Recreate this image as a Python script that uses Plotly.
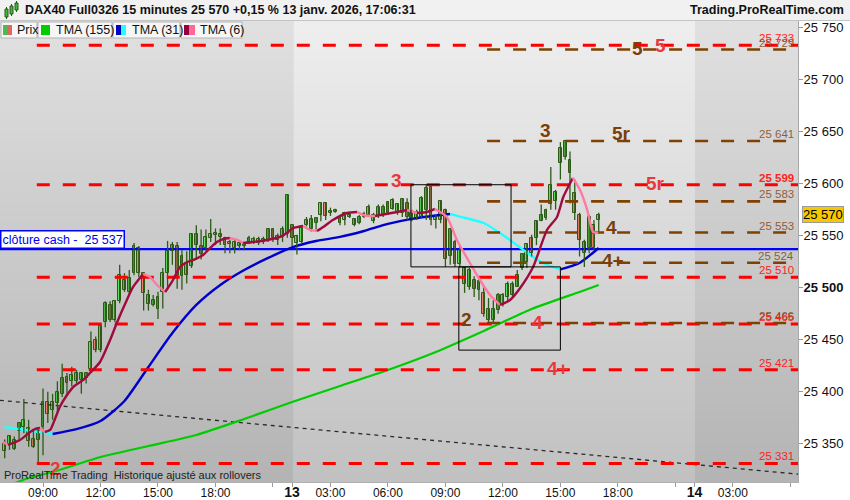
import plotly.graph_objects as go

# ---------------- data (15-minute bars, DAX40 Full0326) ----------------
opens = [25343, 25349, 25345, 25362, 25366, 25365, 25355, 25354, 25366, 25390,
         25382, 25389, 25398, 25414, 25410, 25418, 25411, 25413, 25422, 25450,
         25440, 25467, 25483, 25469, 25487, 25507, 25496, 25514, 25538, 25514,
         25484, 25483, 25480, 25496, 25514, 25535, 25540, 25511, 25524, 25521,
         25552, 25540, 25538, 25548, 25551, 25549, 25548, 25544, 25538, 25540,
         25543, 25544, 25543, 25543, 25547, 25546, 25556, 25546, 25549, 25552,
         25560, 25543, 25544, 25560, 25556, 25562, 25570, 25581, 25572, 25573,
         25562, 25565, 25568, 25560, 25562, 25568, 25578, 25564, 25569, 25570,
         25572, 25584, 25572, 25572, 25581, 25565, 25573, 25568, 25575, 25597,
         25565, 25565, 25575, 25530, 25544, 25523, 25519, 25501, 25507, 25498,
         25495, 25480, 25469, 25479, 25483, 25491, 25504, 25501, 25519, 25525,
         25548, 25548, 25564, 25567, 25580, 25583, 25620, 25626, 25623, 25591,
         25570, 25533, 25538, 25560, 25565]
highs = [25354, 25358, 25357, 25371, 25393, 25373, 25363, 25366, 25403, 25400,
         25398, 25410, 25427, 25418, 25424, 25421, 25419, 25419, 25458, 25453,
         25464, 25487, 25487, 25488, 25522, 25514, 25517, 25543, 25540, 25515,
         25498, 25493, 25496, 25519, 25545, 25544, 25544, 25536, 25535, 25552,
         25560, 25556, 25556, 25566, 25557, 25557, 25549, 25546, 25546, 25544,
         25544, 25550, 25549, 25549, 25549, 25557, 25557, 25552, 25559, 25590,
         25560, 25551, 25560, 25568, 25570, 25568, 25582, 25582, 25577, 25576,
         25570, 25573, 25572, 25567, 25570, 25573, 25580, 25572, 25580, 25580,
         25583, 25586, 25581, 25586, 25586, 25575, 25575, 25588, 25599, 25597,
         25570, 25584, 25576, 25557, 25546, 25541, 25520, 25519, 25511, 25509,
         25501, 25490, 25488, 25495, 25495, 25506, 25506, 25517, 25533, 25543,
         25551, 25565, 25580, 25576, 25616, 25594, 25640, 25642, 25631, 25604,
         25572, 25546, 25570, 25565, 25572]
lows = [25336, 25344, 25344, 25354, 25360, 25347, 25346, 25331, 25339, 25370,
        25373, 25379, 25395, 25398, 25405, 25408, 25398, 25408, 25418, 25438,
        25438, 25462, 25467, 25467, 25485, 25496, 25494, 25512, 25510, 25478,
        25478, 25482, 25470, 25480, 25498, 25522, 25499, 25498, 25504, 25519,
        25527, 25527, 25535, 25544, 25541, 25541, 25533, 25533, 25533, 25536,
        25536, 25542, 25542, 25541, 25542, 25544, 25544, 25541, 25544, 25548,
        25540, 25532, 25543, 25559, 25554, 25556, 25564, 25565, 25569, 25572,
        25560, 25560, 25567, 25559, 25561, 25567, 25568, 25562, 25567, 25568,
        25570, 25575, 25570, 25568, 25565, 25564, 25565, 25567, 25565, 25560,
        25557, 25562, 25520, 25522, 25520, 25520, 25495, 25498, 25491, 25488,
        25472, 25467, 25467, 25475, 25482, 25488, 25491, 25501, 25517, 25519,
        25530, 25541, 25564, 25565, 25575, 25575, 25604, 25623, 25581, 25565,
        25530, 25520, 25533, 25536, 25552]
closes = [25350, 25357, 25354, 25370, 25373, 25353, 25347, 25362, 25390, 25379,
          25390, 25400, 25413, 25408, 25416, 25410, 25418, 25418, 25448, 25440,
          25463, 25485, 25469, 25487, 25512, 25498, 25509, 25540, 25514, 25495,
          25493, 25488, 25491, 25514, 25535, 25541, 25511, 25530, 25512, 25552,
          25541, 25532, 25549, 25552, 25553, 25552, 25541, 25542, 25544, 25543,
          25540, 25548, 25547, 25547, 25544, 25556, 25548, 25550, 25556, 25589,
          25548, 25550, 25557, 25565, 25566, 25567, 25581, 25569, 25574, 25575,
          25567, 25572, 25570, 25566, 25568, 25571, 25570, 25570, 25578, 25578,
          25582, 25576, 25580, 25585, 25568, 25572, 25567, 25586, 25596, 25565,
          25568, 25583, 25528, 25556, 25523, 25536, 25504, 25517, 25499, 25506,
          25475, 25469, 25480, 25493, 25493, 25504, 25493, 25512, 25532, 25542,
          25533, 25564, 25570, 25575, 25599, 25592, 25634, 25641, 25610, 25572,
          25546, 25544, 25568, 25538, 25570]
bars = list(range(len(closes)))

# x-axis ticks (bar index -> label); day 13 starts at bar 60, day 14 at bar 144
tick_bars = [8, 20, 32, 44, 56, 60, 68, 80, 92, 104, 116, 128, 140, 144, 152, 164]
tick_labels = ["09:00", "12:00", "15:00", "18:00", "", "13", "03:00", "06:00",
               "09:00", "12:00", "15:00", "18:00", "", "14", "03:00", ""]
day_labels = ["13", "14"]
price_ticks = [25350, 25400, 25450, 25500, 25550, 25600, 25650, 25700, 25750]

# indicators (bar index, value)
tma155_bars = [0, 5, 10, 20, 30, 40, 50, 60, 70, 80, 90, 100, 110, 120, 124]
tma155_vals = [25308.4, 25317.0, 25322.8, 25337.2, 25347.8, 25358.4, 25373.8, 25390.1,
               25405.5, 25420.9, 25438.2, 25458.4, 25479.5, 25495.9, 25502.6]
tma31_bars = [0, 5, 10, 15, 20, 25, 30, 35, 40, 45, 50, 55, 60, 65, 70, 75, 80, 85,
              90, 93, 95, 100, 105, 110, 113, 116, 120, 124]
tma31_vals = [25366.1, 25362.7, 25359.3, 25364.0, 25371.8, 25391.1, 25423.8, 25456.4,
              25483.4, 25502.6, 25517.0, 25528.6, 25538.7, 25544.9, 25548.8, 25554.5,
              25561.3, 25566.1, 25569.4, 25570.9, 25568.4, 25562.2, 25547.4, 25530.5,
              25522.3, 25517.7, 25523.8, 25538.2]
tma6_bars = [-0.4, 0.7, 3.2, 5.3, 6.3, 7.4, 8.4, 9.5, 10.5, 11.5, 13.0, 14.3, 16.4, 17.8,
             19.9, 22.0, 23.4, 25.5, 26.8, 28.9, 30.3, 31.8, 33.5, 34.9, 36.6, 38.1,
             39.3, 41.4, 42.9, 44.3, 45.6, 47.0, 48.5, 49.8, 51.8, 54.8, 57.5, 58.9,
             60.2, 61.2, 62.3, 63.7, 65.2, 66.5, 68.5, 71.5, 73.6, 75.2, 77.3, 79.0,
             81.9, 84.0, 86.1, 88.2, 89.8, 92.3, 94.4, 97.1, 99.2, 101.3, 103.4, 105.5,
             107.6, 110.3, 113.2, 115.3, 116.6, 118.6, 120.1, 121.6, 122.8, 123.9]
tma6_vals = [25351.6, 25348.8, 25353.6, 25361.3, 25364.1, 25365.1, 25361.3, 25363.2,
             25373.8, 25385.3, 25396.8, 25404.5, 25411.3, 25418.0, 25428.6, 25449.7,
             25466.1, 25488.2, 25500.7, 25513.2, 25510.3, 25502.6, 25495.9, 25505.5,
             25519.9, 25524.7, 25526.6, 25531.4, 25538.2, 25543.9, 25546.8, 25547.8,
             25545.9, 25543.0, 25543.9, 25545.9, 25548.8, 25552.6, 25557.4, 25558.4,
             25559.3, 25555.5, 25554.5, 25558.4, 25565.1, 25571.8, 25572.8, 25569.4,
             25568.9, 25570.4, 25572.8, 25574.7, 25571.8, 25572.8, 25575.7, 25568.0,
             25545.9, 25523.8, 25507.4, 25493.0, 25483.4, 25488.2, 25499.7, 25519.9,
             25555.5, 25568.0, 25587.2, 25605.5, 25593.9, 25574.7, 25553.6, 25552.6]

red_levels = [25733, 25599, 25510, 25465, 25421, 25331]
brown_levels = [25729, 25641, 25583, 25553, 25524, 25466]
red_start_bar = 6.7
brown_start_bar = 100.7
cash_close = 25537
last_price = 25570
trend_bars = [-1, 166]
trend_vals = [25391.7, 25320.6]
zone_bars = [(84.8, 105.7), (94.8, 116.0)]
zone_prices = [(25599, 25520), (25520, 25440)]

# ---------------- styling ----------------
FONT = "Liberation Sans, Arial, sans-serif"
X_RANGE = [-0.98, 165.6]
Y_RANGE = [25313.2, 25756.4]
PLOT_W, PLOT_H, TOP = 798, 461, 21
OUTLINE = "#2d5a17"
UP_BODY = "#5fe05f"
DOWN_BODY = "#e8806e"


def fmt(v):
    return f"{v:,}".replace(",", " ")


def X(px):
    return px / PLOT_W


def P(py):
    return 1 + (TOP - py) / PLOT_H


fig = go.Figure()

# background: vertical gradient, alternating per day
shapes = []
N = 46
regions = [(X_RANGE[0], 60.3, 224, 180), (60.3, 144.1, 238, 193), (144.1, X_RANGE[1], 224, 180)]
for x0, x1, top, bot in regions:
    for k in range(N):
        t = (k + 0.5) / N
        v = int(round(bot + (top - bot) * t))
        shapes.append(dict(type="rect", xref="x", yref="paper", x0=x0, x1=x1,
                           y0=k / N, y1=(k + 1) / N + 0.002, layer="below",
                           fillcolor=f"rgb({v},{v},{v})", line=dict(width=0)))

# trend line
fig.add_trace(go.Scatter(x=trend_bars, y=trend_vals, mode="lines",
                         line=dict(color="#2a2a2a", width=1.3, dash="4px,4px"), hoverinfo="skip"))
# cash close line
fig.add_trace(go.Scatter(x=[X_RANGE[0] - 2, X_RANGE[1] + 5], y=[cash_close, cash_close], mode="lines",
                         line=dict(color="#0000ff", width=2.2), hoverinfo="skip"))


def colored(xs, ys, up_c, dn_c, width):
    segs = []
    cur = None
    for k in range(len(xs) - 1):
        c = up_c if ys[k + 1] >= ys[k] else dn_c
        if cur is None or cur[0] != c:
            cur = [c, [xs[k]], [ys[k]]]
            segs.append(cur)
        cur[1].append(xs[k + 1])
        cur[2].append(ys[k + 1])
    for c, sx, sy in segs:
        fig.add_trace(go.Scatter(x=sx, y=sy, mode="lines", hoverinfo="skip",
                                 line=dict(color=c, width=width, shape="spline", smoothing=0.6)))


colored(tma155_bars, tma155_vals, "#00cc00", "#00cc00", 2.2)
colored(tma31_bars, tma31_vals, "#0000cc", "#22ffff", 2.4)

# candles: wicks + bodies
wx, wy = [], []
for i in bars:
    wx += [i, i, None]
    wy += [lows[i], highs[i], None]
fig.add_trace(go.Scatter(x=wx, y=wy, mode="lines", line=dict(color=OUTLINE, width=1.3),
                         hoverinfo="skip"))
bases = [min(o, c) for o, c in zip(opens, closes)]
heights = [max(abs(c - o), 0.8) for o, c in zip(opens, closes)]
colors = [UP_BODY if c >= o else DOWN_BODY for o, c in zip(opens, closes)]
fig.add_trace(go.Bar(x=bars, y=heights, base=bases, width=0.6, marker=dict(
    color=colors, line=dict(color=OUTLINE, width=1)), hoverinfo="skip"))

# level lines
for lv in red_levels:
    fig.add_trace(go.Scatter(x=[red_start_bar, X_RANGE[1] + 10], y=[lv, lv], mode="lines",
                             line=dict(color="#ff0000", width=3, dash="13px,13px"), hoverinfo="skip"))
for lv in brown_levels:
    fig.add_trace(go.Scatter(x=[brown_start_bar, X_RANGE[1] + 10], y=[lv, lv], mode="lines",
                             line=dict(color="#7f4000", width=2.6, dash="13px,13px"), hoverinfo="skip"))

colored(tma6_bars, tma6_vals, "#9e0b3e", "#ff7aa0", 2.4)

# zones
for (b0, b1), (p0, p1) in zip(zone_bars, zone_prices):
    shapes.append(dict(type="rect", xref="x", yref="y", x0=b0, x1=b1, y0=p1, y1=p0,
                       line=dict(color="#000000", width=1), fillcolor="rgba(0,0,0,0)", layer="above"))

annotations = []
# level price labels on the right
for lv in red_levels:
    txt = fmt(lv)
    if lv == 25599:
        txt = f"<b>{txt}</b>"
    annotations.append(dict(xref="paper", yref="y", x=1, y=lv, xanchor="right", yanchor="bottom",
                            xshift=-2, yshift=-1, text=txt, showarrow=False,
                            font=dict(family=FONT, size=11.5, color="#ff2222")))
for lv in brown_levels:
    annotations.append(dict(xref="paper", yref="y", x=1, y=lv, xanchor="right", yanchor="bottom",
                            xshift=-2, yshift=-1, text=fmt(lv), showarrow=False,
                            font=dict(family=FONT, size=11.5, color="rgba(128,72,20,0.85)")))

# pattern labels
RED_T, BRN_T = "#e8383c", "#7a3f0a"
pattern_labels = [
    ("2", 10.7, 25326.6, RED_T), ("3", 81.7, 25603.4, RED_T), ("4", 111.3, 25467.0, RED_T),
    ("4+", 115.5, 25422.6, RED_T), ("5r", 135.8, 25600.5, RED_T), ("5", 136.8, 25732.4, RED_T),
    ("2", 96.5, 25469.9, BRN_T), ("3", 112.8, 25650.7, BRN_T), ("5r", 128.7, 25647.8, BRN_T),
    ("4", 126.6, 25557.4, BRN_T), ("4+", 127.0, 25526.6, BRN_T), ("5", 132.0, 25729.5, BRN_T),
]
for t, bx, py, col in pattern_labels:
    annotations.append(dict(xref="x", yref="y", x=bx, y=py, text=f"<b>{t}</b>", showarrow=False,
                            xanchor="center", yanchor="middle",
                            font=dict(family=FONT, size=19, color=col)))

# cash close label
annotations.append(dict(xref="paper", yref="y", x=0, y=cash_close, xanchor="left", yanchor="bottom",
                        yshift=0, text=f"clôture cash -  {fmt(cash_close)}", showarrow=False,
                        bgcolor="#ffffff", bordercolor="#0000ff", borderwidth=1.5, borderpad=1,
                        font=dict(family=FONT, size=12.5, color="#0000ee")))
# last price tag
annotations.append(dict(xref="paper", yref="y", x=1, y=last_price, xanchor="left", yanchor="middle",
                        xshift=4, text=fmt(last_price), showarrow=False,
                        bgcolor="#f7c800", bordercolor="#9a9a9a", borderwidth=1, borderpad=0,
                        font=dict(family=FONT, size=13, color="#000000")))

# header
shapes.append(dict(type="rect", xref="paper", yref="paper", x0=X(-2), x1=X(852), y0=P(21), y1=P(-1),
                   fillcolor="#f1f1f1", line=dict(width=0), layer="above"))
shapes.append(dict(type="line", xref="paper", yref="paper", x0=X(0), x1=X(850), y0=P(20.5), y1=P(20.5),
                   line=dict(color="#c4c4c4", width=1), layer="above"))
# header icon (mini candles)
for (a, b, c, d, col) in [(5, 8, 9, 17, "#3cb83c"), (10, 13, 6, 14, "#3cb83c"), (15, 18, 3, 10, "#3cb83c")]:
    shapes.append(dict(type="line", xref="paper", yref="paper", x0=X((a + b) / 2), x1=X((a + b) / 2),
                       y0=P(d + 2), y1=P(c - 2), line=dict(color="#2d5a17", width=1), layer="above"))
    shapes.append(dict(type="rect", xref="paper", yref="paper", x0=X(a), x1=X(b), y0=P(d), y1=P(c),
                       fillcolor=col, line=dict(color="#2d5a17", width=1), layer="above"))
annotations.append(dict(xref="paper", yref="paper", x=X(23), y=P(10.5), xanchor="left", yanchor="middle",
                        text="<b>DAX40 Full0326 15 minutes 25 570 +0,15 % 13 janv. 2026, 17:06:31</b>",
                        showarrow=False, font=dict(family=FONT, size=12.5, color="#111111")))
annotations.append(dict(xref="paper", yref="paper", x=X(846), y=P(10.5), xanchor="right", yanchor="middle",
                        text="<b>Trading.ProRealTime.com</b>", showarrow=False,
                        font=dict(family=FONT, size=12.5, color="#111111")))

# legend tabs
tabs = [(1, 37, "Prix", 15, [("#4cbb4c", 3, 8), ("#e06666", 8, 12)]),
        (38, 112, "TMA (155)", 54, [("#00cc00", 41, 50)]),
        (113, 180, "TMA (31)", 130, [("#0000cc", 116, 121), ("#22ffff", 121, 126)]),
        (181, 242, "TMA (6)", 198, [("#99003a", 184, 189), ("#ff6699", 189, 195)])]
for x0, x1, label, tx, sw in tabs:
    shapes.append(dict(type="rect", xref="paper", yref="paper", x0=X(x0), x1=X(x1), y0=P(38), y1=P(22),
                       fillcolor="#f6f6f6", line=dict(color="#b4b4b4", width=1), layer="above"))
    for col, s0, s1 in sw:
        shapes.append(dict(type="rect", xref="paper", yref="paper", x0=X(s0), x1=X(s1), y0=P(35), y1=P(25),
                           fillcolor=col, line=dict(width=0), layer="above"))
    annotations.append(dict(xref="paper", yref="paper", x=X(tx), y=P(30.5), xanchor="left", yanchor="middle",
                            text=label, showarrow=False, font=dict(family=FONT, size=12.5, color="#111111")))

# footer text inside plot
annotations.append(dict(xref="paper", yref="paper", x=X(2), y=P(475), xanchor="left", yanchor="middle",
                        text="ProRealTime Trading  Historique ajusté aux rollovers", showarrow=False,
                        font=dict(family=FONT, size=11, color="#222222")))

ticktext = []
for t in tick_labels:
    if t in day_labels:
        ticktext.append(f"<span style='font-size:14px'><b>{t}</b></span>")
    else:
        ticktext.append(t)
yticktext = [f"<b>{fmt(v)}</b>" if v == 25500 else fmt(v) for v in price_ticks]

fig.update_layout(
    width=850, height=500, template="none",
    margin=dict(l=0, r=52, t=21, b=18, autoexpand=False),
    paper_bgcolor="#ffffff", plot_bgcolor="#d0d0d0",
    showlegend=False, hovermode=False, bargap=0,
    font=dict(family=FONT, size=12, color="#111111"),
    shapes=shapes, annotations=annotations,
    xaxis=dict(range=X_RANGE, tickvals=tick_bars, ticktext=ticktext, ticks="outside", ticklen=4,
               tickcolor="#9a9a9a", showgrid=False, zeroline=False, showline=True, linecolor="#b0b0b0",
               tickfont=dict(family=FONT, size=12, color="#111111"), automargin=False, fixedrange=True,
               ticklabelstandoff=-4),
    yaxis=dict(range=Y_RANGE, side="right", tickvals=price_ticks, ticktext=yticktext, ticks="outside",
               ticklen=4, tickcolor="#9a9a9a", showgrid=False, zeroline=False, showline=True,
               linecolor="#a8a8a8", tickfont=dict(family=FONT, size=13, color="#111111"),
               automargin=False, fixedrange=True, ticklabelstandoff=-2),
)

fig.write_html("out.html", config={"displayModeBar": False},
               post_script="document.body.style.margin='0';document.body.style.padding='0';"
                           "document.documentElement.style.overflow='hidden';")
